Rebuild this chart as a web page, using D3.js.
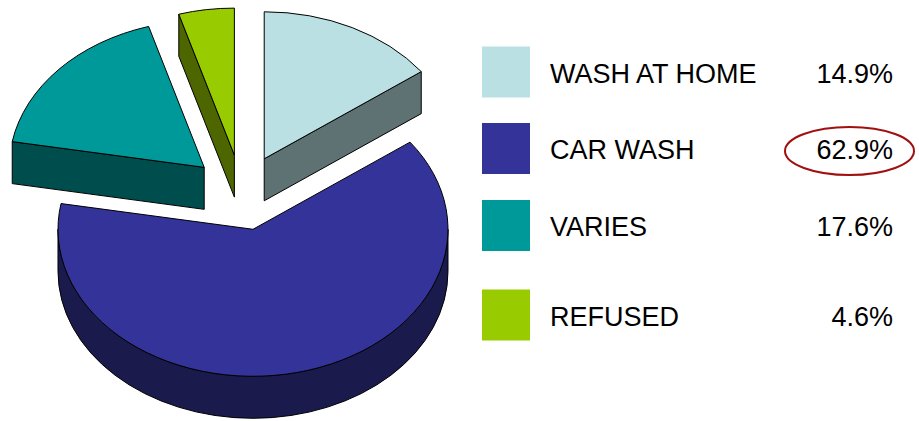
<!DOCTYPE html>
<html>
<head>
<meta charset="utf-8">
<script src="https://cdn.jsdelivr.net/npm/d3@7/dist/d3.min.js"></script>
<style>
  html, body { margin: 0; padding: 0; background: #fff; }
  svg { display: block; }
  text { font-family: "Liberation Sans", Arial, sans-serif; fill: #000; }
</style>
</head>
<body>
<svg id="chart" width="919" height="421"></svg>
<script>
// Survey answers: where the car gets washed
const categories = ["WASH AT HOME", "CAR WASH", "VARIES", "REFUSED"];
const shares = [14.9, 62.9, 17.6, 4.6];
const valueLabels = ["14.9%", "62.9%", "17.6%", "4.6%"];
const topColors = ["#BAE0E3", "#333399", "#009999", "#99CC00"];
const sideColors = ["#5E7173", "#1B1A4D", "#004D4D", "#4D6600"];
const highlighted = "CAR WASH";

const svg = d3.select("#chart");

// 3D pie geometry
const cx = 241.6, cy = 192.5, rx = 195, ry = 147, depth = 42, explode = 0.257;

const pie = d3.pie().sort(null).value(d => d.value);
const arcs = pie(categories.map((c, i) => ({ name: c, value: shares[i], i })));

function pt(ox, oy, a, dz) {
  return [ox + rx * Math.sin(a), oy - ry * Math.cos(a) + (dz || 0)];
}

const slices = arcs.map(a => {
  const mid = (a.startAngle + a.endAngle) / 2;
  const ox = cx + explode * rx * Math.sin(mid);
  const oy = cy - explode * ry * Math.cos(mid);
  return { ...a, ox, oy };
});

// back slices first, front slice last
const order = slices.slice().sort((a, b) => a.oy - b.oy);

const gPie = svg.append("g");

function drawPath(g, d, fill) {
  g.append("path").attr("d", d)
    .attr("fill", fill).attr("stroke", "#000")
    .attr("stroke-width", 1).attr("stroke-linejoin", "round");
}

order.forEach(s => {
  const i = s.data.i;
  const g = gPie.append("g");
  const v = [s.ox, s.oy];
  const face = (a) => {
    const p = pt(s.ox, s.oy, a);
    const p2 = pt(s.ox, s.oy, a, depth);
    const path = d3.path();
    path.moveTo(v[0], v[1]);
    path.lineTo(p[0], p[1]);
    path.lineTo(p2[0], p2[1]);
    path.lineTo(v[0], v[1] + depth);
    path.closePath();
    return path.toString();
  };
  // radial cut faces turned toward the viewer
  if (Math.sin(s.startAngle) < -1e-6) drawPath(g, face(s.startAngle), sideColors[i]);
  if (Math.sin(s.endAngle) > 1e-6) drawPath(g, face(s.endAngle), sideColors[i]);
  // front rim (between 90° and 270°)
  const a1 = Math.max(s.startAngle, Math.PI / 2);
  const a2 = Math.min(s.endAngle, 3 * Math.PI / 2);
  if (a2 > a1) {
    const p1 = pt(s.ox, s.oy, a1), p2 = pt(s.ox, s.oy, a2);
    const q2 = pt(s.ox, s.oy, a2, depth), q1 = pt(s.ox, s.oy, a1, depth);
    const large = (a2 - a1) > Math.PI ? 1 : 0;
    const d = `M${p1[0]},${p1[1]} A${rx},${ry} 0 ${large} 1 ${p2[0]},${p2[1]}` +
      ` L${q2[0]},${q2[1]} A${rx},${ry} 0 ${large} 0 ${q1[0]},${q1[1]} Z`;
    drawPath(g, d, sideColors[i]);
  }
  // top surface
  const ps = pt(s.ox, s.oy, s.startAngle), pe = pt(s.ox, s.oy, s.endAngle);
  const large = (s.endAngle - s.startAngle) > Math.PI ? 1 : 0;
  const top = `M${v[0]},${v[1]} L${ps[0]},${ps[1]} A${rx},${ry} 0 ${large} 1 ${pe[0]},${pe[1]} Z`;
  drawPath(g, top, topColors[i]);
});

// Legend rows (the last row sits a little lower)
const rowCenters = [72, 148.5, 225.5, 315];
const legend = svg.append("g");
categories.forEach((c, i) => {
  const yc = rowCenters[i];
  legend.append("rect")
    .attr("x", 482).attr("y", yc - 25.5).attr("width", 48).attr("height", 51)
    .attr("fill", topColors[i]);
  legend.append("text")
    .attr("x", 550).attr("y", yc + 10.5)
    .attr("font-size", 27)
    .text(c);
  legend.append("text")
    .attr("x", 893).attr("y", yc + 10.5)
    .attr("font-size", 27)
    .attr("text-anchor", "end")
    .text(valueLabels[i]);
  if (c === highlighted) {
    legend.append("ellipse")
      .attr("cx", 849.5).attr("cy", yc + 2.5)
      .attr("rx", 64.5).attr("ry", 24)
      .attr("fill", "none").attr("stroke", "#A01010").attr("stroke-width", 2);
  }
});
</script>
</body>
</html>
